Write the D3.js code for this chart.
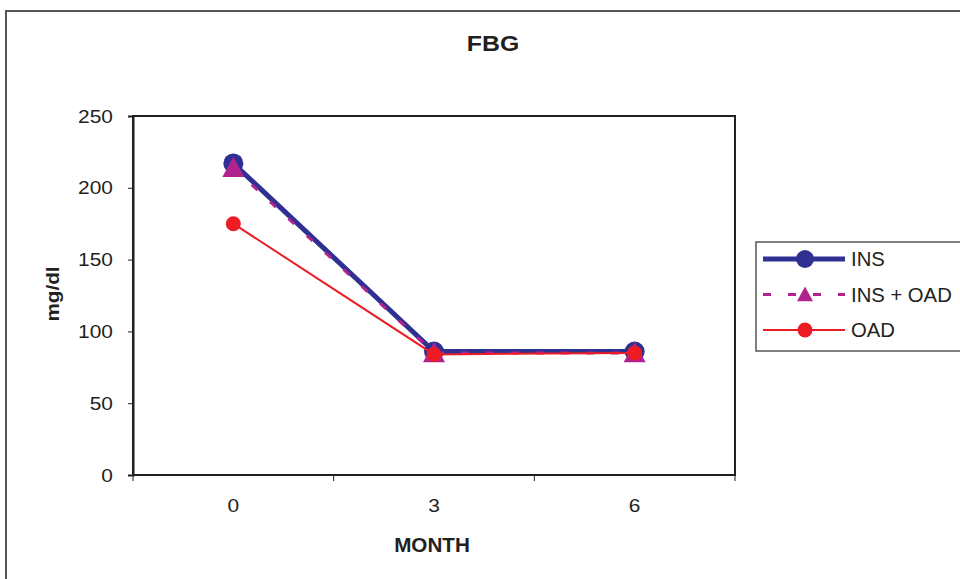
<!DOCTYPE html>
<html lang="en">
<head>
  <meta charset="UTF-8">
  <title>FBG</title>
  <script src="https://d3js.org/d3.v7.min.js"></script>
  <style>
    body { margin: 0; background: #fff; }
    text { font-family: "Liberation Sans", Arial, sans-serif; fill: #231f20; }
  </style>
</head>
<body>
  <svg width="960" height="579"></svg>
  <script>
    const months = ["0", "3", "6"];
    const insValues = [217, 86, 86];
    const insOadValues = [214, 85, 85];
    const oadValues = [175, 84, 85];
    const yTicks = [0, 50, 100, 150, 200, 250];

    const series = [
      { name: "INS", values: insValues, color: "#2e3192", width: 5, dash: null, marker: "circle", size: 10 },
      { name: "INS + OAD", values: insOadValues, color: "#b0238f", width: 3, dash: "8,17", marker: "triangle", size: 11 },
      { name: "OAD", values: oadValues, color: "#ed1c24", width: 2, dash: null, marker: "circle", size: 7.5 }
    ];

    const svg = d3.select("svg");

    // text placed in its own frame so it can be widened a little, like the source
    function label(parent, x, y, str, opt) {
      const g = parent.append("g")
        .attr("transform", `translate(${x},${y}) rotate(${opt.rotate || 0}) scale(${opt.sx || 1},1)`);
      return g.append("text")
        .attr("text-anchor", opt.anchor || "middle")
        .style("font-size", opt.size + "px")
        .style("font-weight", opt.bold ? "bold" : "normal")
        .text(str);
    }

    // outer chart frame
    svg.append("rect")
      .attr("x", 6).attr("y", 11)
      .attr("width", 1000).attr("height", 600)
      .attr("fill", "none")
      .attr("stroke", "#555")
      .attr("stroke-width", 2);

    const plot = { left: 133, right: 735, top: 116, bottom: 475 };

    const x = d3.scalePoint()
      .domain(months)
      .range([plot.left, plot.right])
      .padding(0.5);

    const y = d3.scaleLinear()
      .domain([0, 250])
      .range([plot.bottom, plot.top]);

    // plot box
    svg.append("rect")
      .attr("x", plot.left).attr("y", plot.top)
      .attr("width", plot.right - plot.left)
      .attr("height", plot.bottom - plot.top)
      .attr("fill", "none")
      .attr("stroke", "#231f20")
      .attr("stroke-width", 2);

    // y axis
    const yAxis = svg.append("g")
      .attr("transform", `translate(${plot.left},0)`)
      .call(d3.axisLeft(y).tickValues(yTicks).tickSize(5).tickFormat(""));
    yAxis.select(".domain").attr("stroke", "#231f20").attr("stroke-width", 2);
    yAxis.selectAll(".tick line").attr("stroke", "#231f20");
    yTicks.forEach(t => label(svg, 113, y(t) + 6.5, t, { size: 19, sx: 1.1, anchor: "end" }));

    // x axis: ticks between categories
    const step = x.step();
    const xAxis = svg.append("g")
      .attr("transform", `translate(0,${plot.bottom})`);
    xAxis.append("line")
      .attr("x1", plot.left).attr("x2", plot.right)
      .attr("stroke", "#231f20").attr("stroke-width", 2);
    const bounds = [plot.left].concat(months.map(m => x(m) + step / 2));
    xAxis.selectAll(".xtick")
      .data(bounds)
      .enter().append("line")
      .attr("x1", d => d).attr("x2", d => d)
      .attr("y1", 0).attr("y2", 6)
      .attr("stroke", "#231f20");
    months.forEach(m => label(svg, x(m), 512, m, { size: 19, sx: 1.1 }));

    // titles
    label(svg, 493, 51, "FBG", { size: 22, bold: true, sx: 1.13 });
    label(svg, 432, 552, "MONTH", { size: 19.5, bold: true, sx: 1.06 });
    label(svg, 59, 294, "mg/dl", { size: 18, bold: true, sx: 1.15, rotate: -90 });

    const line = d3.line()
      .x((d, i) => x(months[i]))
      .y(d => y(d));

    function drawMarker(g, s, cx, cy) {
      if (s.marker === "circle") {
        g.append("circle")
          .attr("cx", cx).attr("cy", cy).attr("r", s.size)
          .attr("fill", s.color);
      } else {
        const h = s.size;
        g.append("path")
          .attr("d", `M${cx},${cy - h}L${cx + h},${cy + h * 0.85}L${cx - h},${cy + h * 0.85}Z`)
          .attr("fill", s.color);
      }
    }

    series.forEach(s => {
      const g = svg.append("g");
      g.append("path")
        .datum(s.values)
        .attr("d", line)
        .attr("fill", "none")
        .attr("stroke", s.color)
        .attr("stroke-width", s.width)
        .attr("stroke-dasharray", s.dash);
      s.values.forEach((v, i) => drawMarker(g, s, x(months[i]), y(v)));
    });

    // legend
    const legend = svg.append("g");
    legend.append("rect")
      .attr("x", 756).attr("y", 242)
      .attr("width", 220).attr("height", 109)
      .attr("fill", "#fff")
      .attr("stroke", "#555")
      .attr("stroke-width", 1.5);
    const legendMarker = [9, 8, 7.5];
    series.forEach((s, i) => {
      const ly = 259 + i * 35.5;
      const g = legend.append("g");
      g.append("line")
        .attr("x1", 763).attr("x2", 845)
        .attr("y1", ly).attr("y2", ly)
        .attr("stroke", s.color)
        .attr("stroke-width", s.width)
        .attr("stroke-dasharray", s.dash);
      drawMarker(g, Object.assign({}, s, { size: legendMarker[i] }), 805, ly);
      label(g, 851, ly + 7, s.name, { size: 19.5, sx: 1.04, anchor: "start" });
    });
  </script>
</body>
</html>
